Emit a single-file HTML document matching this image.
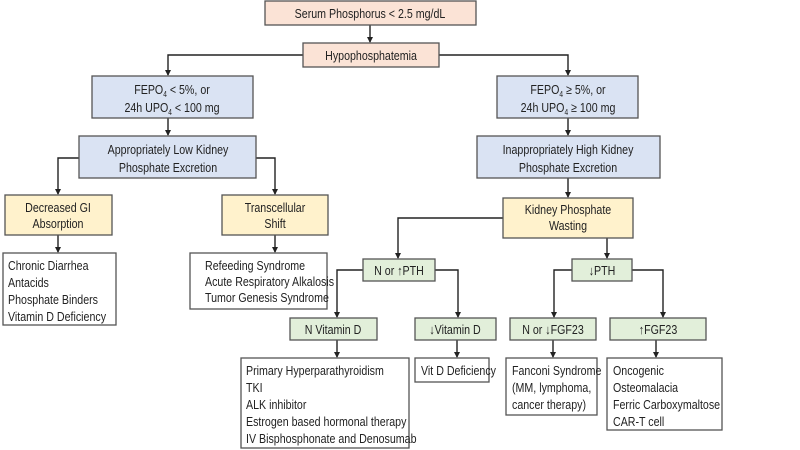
<!DOCTYPE html>
<html><head><meta charset="utf-8"><style>
html,body{margin:0;padding:0;background:#fff;}
svg{display:block;}
text{font-family:"Liberation Sans",Arial,sans-serif;font-size:13px;fill:#222;}
.c{text-anchor:middle;}
.b{stroke:#555;stroke-width:1.3;}
.l{stroke:#222;stroke-width:1.4;fill:none;}
</style></head><body>
<svg width="800" height="450" viewBox="0 0 800 450" xmlns="http://www.w3.org/2000/svg">
<defs><marker id="a" markerWidth="6" markerHeight="6" refX="5" refY="3" orient="auto" markerUnits="userSpaceOnUse"><path d="M0,0 L6,3 L0,6z" fill="#222"/></marker></defs>
<path class="l" d="M370,25 V42" marker-end="url(#a)"/>
<path class="l" d="M303,55 H168 V75" marker-end="url(#a)"/>
<path class="l" d="M439,55 H568 V75" marker-end="url(#a)"/>
<path class="l" d="M168,118 V135" marker-end="url(#a)"/>
<path class="l" d="M568,118 V135" marker-end="url(#a)"/>
<path class="l" d="M79,158 H58 V194" marker-end="url(#a)"/>
<path class="l" d="M256,158 H275 V194" marker-end="url(#a)"/>
<path class="l" d="M568,178 V197" marker-end="url(#a)"/>
<path class="l" d="M58,235 V252" marker-end="url(#a)"/>
<path class="l" d="M275,235 V252" marker-end="url(#a)"/>
<path class="l" d="M503,218 H398 V258" marker-end="url(#a)"/>
<path class="l" d="M633,218 H607 V258" marker-end="url(#a)"/>
<path class="l" d="M363,270 H337 V317" marker-end="url(#a)"/>
<path class="l" d="M435,270 H458 V317" marker-end="url(#a)"/>
<path class="l" d="M572,270 H554 V317" marker-end="url(#a)"/>
<path class="l" d="M632,270 H663 V317" marker-end="url(#a)"/>
<path class="l" d="M337,340 V357" marker-end="url(#a)"/>
<path class="l" d="M457,340 V357" marker-end="url(#a)"/>
<path class="l" d="M553,340 V357" marker-end="url(#a)"/>
<path class="l" d="M656,340 V357" marker-end="url(#a)"/>

<rect class="b" x="265" y="1" width="211" height="24" fill="#fbe3d6"/>
<text class="c" transform="translate(370,18) scale(.82,1)">Serum Phosphorus &lt; 2.5 mg/dL</text>
<rect class="b" x="303" y="43" width="136" height="24" fill="#fbe3d6"/>
<text class="c" transform="translate(371,60) scale(.82,1)">Hypophosphatemia</text>
<rect class="b" x="92" y="76" width="161" height="42" fill="#dae3f3"/>
<text class="c" transform="translate(172,94) scale(.82,1)">FEPO<tspan font-size="8" dy="3">4</tspan><tspan dy="-3"> &lt; 5%, or</tspan></text>
<text class="c" transform="translate(172,112) scale(.82,1)">24h UPO<tspan font-size="8" dy="3">4</tspan><tspan dy="-3"> &lt; 100 mg</tspan></text>
<rect class="b" x="497" y="76" width="141" height="42" fill="#dae3f3"/>
<text class="c" transform="translate(568,94) scale(.82,1)">FEPO<tspan font-size="8" dy="3">4</tspan><tspan dy="-3"> ≥ 5%, or</tspan></text>
<text class="c" transform="translate(568,112) scale(.82,1)">24h UPO<tspan font-size="8" dy="3">4</tspan><tspan dy="-3"> ≥ 100 mg</tspan></text>
<rect class="b" x="79" y="136" width="177" height="42" fill="#dae3f3"/>
<text class="c" transform="translate(168,154) scale(.82,1)">Appropriately Low Kidney</text>
<text class="c" transform="translate(168,172) scale(.82,1)">Phosphate Excretion</text>
<rect class="b" x="477" y="136" width="183" height="42" fill="#dae3f3"/>
<text class="c" transform="translate(568,154) scale(.82,1)">Inappropriately High Kidney</text>
<text class="c" transform="translate(568,172) scale(.82,1)">Phosphate Excretion</text>
<rect class="b" x="5" y="195" width="107" height="40" fill="#fff2cc"/>
<text class="c" font-size="12" transform="translate(58,212) scale(.82,1)">Decreased GI</text>
<text class="c" font-size="12" transform="translate(58,228) scale(.82,1)">Absorption</text>
<rect class="b" x="222" y="195" width="106" height="40" fill="#fff2cc"/>
<text class="c" font-size="12" transform="translate(275,212) scale(.82,1)">Transcellular</text>
<text class="c" font-size="12" transform="translate(275,228) scale(.82,1)">Shift</text>
<rect class="b" x="503" y="198" width="130" height="40" fill="#fff2cc"/>
<text class="c" font-size="12" transform="translate(568,214) scale(.82,1)">Kidney Phosphate</text>
<text class="c" font-size="12" transform="translate(568,230) scale(.82,1)">Wasting</text>

<rect class="b" x="3" y="253" width="113" height="72" fill="#fff"/>
<text transform="translate(8,270) scale(.82,1)">Chronic Diarrhea</text>
<text transform="translate(8,287) scale(.82,1)">Antacids</text>
<text transform="translate(8,304) scale(.82,1)">Phosphate Binders</text>
<text transform="translate(8,321) scale(.82,1)">Vitamin D Deficiency</text>
<rect class="b" x="190" y="253" width="137" height="56" fill="#fff"/>
<text transform="translate(205,270) scale(.82,1)">Refeeding Syndrome</text>
<text transform="translate(205,286) scale(.82,1)">Acute Respiratory Alkalosis</text>
<text transform="translate(205,302) scale(.82,1)">Tumor Genesis Syndrome</text>

<rect class="b" x="363" y="259" width="72" height="22" fill="#e2efda"/>
<text class="c" transform="translate(399,275) scale(.82,1)">N or ↑PTH</text>
<rect class="b" x="572" y="259" width="60" height="22" fill="#e2efda"/>
<text class="c" transform="translate(602,275) scale(.82,1)">↓PTH</text>
<rect class="b" x="290" y="318" width="87" height="22" fill="#e2efda"/>
<text class="c" transform="translate(333,334) scale(.82,1)">N Vitamin D</text>
<rect class="b" x="415" y="318" width="81" height="22" fill="#e2efda"/>
<text class="c" transform="translate(455,334) scale(.82,1)">↓Vitamin D</text>
<rect class="b" x="510" y="318" width="86" height="22" fill="#e2efda"/>
<text class="c" transform="translate(553,334) scale(.82,1)">N or ↓FGF23</text>
<rect class="b" x="610" y="318" width="96" height="22" fill="#e2efda"/>
<text class="c" transform="translate(658,334) scale(.82,1)">↑FGF23</text>

<rect class="b" x="241" y="358" width="168" height="90" fill="#fff"/>
<text transform="translate(246,375) scale(.82,1)">Primary Hyperparathyroidism</text>
<text transform="translate(246,392) scale(.82,1)">TKI</text>
<text transform="translate(246,409) scale(.82,1)">ALK inhibitor</text>
<text transform="translate(246,426) scale(.82,1)">Estrogen based hormonal therapy</text>
<text transform="translate(246,443) scale(.82,1)">IV Bisphosphonate and Denosumab</text>
<rect class="b" x="415" y="358" width="74" height="24" fill="#fff"/>
<text transform="translate(421,375) scale(.82,1)">Vit D Deficiency</text>
<rect class="b" x="506" y="358" width="91" height="57" fill="#fff"/>
<text transform="translate(512,375) scale(.82,1)">Fanconi Syndrome</text>
<text transform="translate(512,392) scale(.82,1)">(MM, lymphoma,</text>
<text transform="translate(512,409) scale(.82,1)">cancer therapy)</text>
<rect class="b" x="607" y="358" width="115" height="72" fill="#fff"/>
<text transform="translate(613,375) scale(.82,1)">Oncogenic</text>
<text transform="translate(613,392) scale(.82,1)">Osteomalacia</text>
<text transform="translate(613,409) scale(.82,1)">Ferric Carboxymaltose</text>
<text transform="translate(613,426) scale(.82,1)">CAR-T cell</text>
</svg>
</body></html>
